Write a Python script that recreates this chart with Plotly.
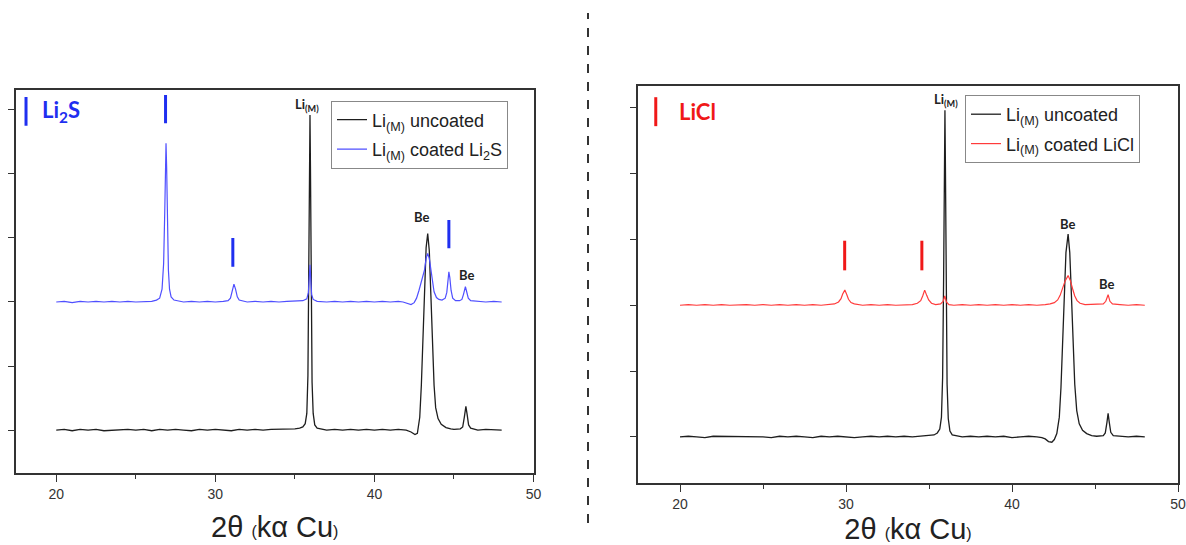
import plotly.graph_objects as go

# ---------------- data ----------------
# Left panel: Li(M) uncoated (black) and Li(M) coated Li2S (blue)
left_unc_x = [20.0, 20.5, 21.0, 21.5, 22.0, 22.5, 23.0, 23.5, 24.0, 24.5, 25.0, 25.5, 26.0, 26.5, 27.0, 27.5,
              28.0, 28.5, 29.0, 29.5, 30.0, 30.5, 31.0, 31.5, 32.0, 32.5, 33.0, 33.5, 34.0, 34.5, 35.0, 35.3,
              35.5, 35.65, 35.75, 35.82, 35.87, 35.92, 35.95, 35.98, 36.03, 36.08, 36.15, 36.25, 36.4, 36.7,
              37.0, 37.5, 38.0, 38.5, 39.0, 39.5, 40.0, 40.5, 41.0, 41.5, 42.0, 42.3, 42.55, 42.7, 42.85, 42.95,
              43.05, 43.15, 43.25, 43.35, 43.45, 43.55, 43.65, 43.75, 43.85, 44.0, 44.2, 44.5, 44.8, 45.0, 45.4,
              45.55, 45.65, 45.75, 45.83, 45.92, 46.05, 46.3, 46.5, 47.0, 47.5, 48.0]
left_unc_y = [0.00, 0.01, -0.01, 0.01, 0.00, 0.01, -0.01, 0.00, 0.01, 0.01, 0.00, 0.01, -0.01, 0.01, 0.00, 0.01,
              0.00, -0.01, 0.01, 0.00, 0.01, 0.00, -0.01, 0.01, 0.00, 0.01, 0.00, 0.01, 0.01, 0.01, 0.02, 0.03,
              0.05, 0.10, 0.26, 0.85, 2.3, 4.3, 4.92, 4.1, 2.2, 0.75, 0.26, 0.08, 0.03, 0.01,
              0.00, 0.01, 0.00, 0.01, 0.00, 0.01, 0.00, 0.01, 0.00, 0.01, 0.00, -0.03, -0.07, -0.05, 0.2, 0.7,
              1.5, 2.3, 2.85, 3.07, 2.8, 2.1, 1.3, 0.7, 0.35, 0.18, 0.09, 0.04, 0.02, 0.01, 0.02,
              0.05, 0.2, 0.37, 0.24, 0.08, 0.03, 0.01, 0.00, 0.01, 0.00, 0.00]

left_coat_x = [20.0, 20.5, 21.0, 21.5, 22.0, 22.5, 23.0, 23.5, 24.0, 24.5, 25.0, 25.5, 26.0, 26.3, 26.5, 26.65,
               26.75, 26.82, 26.87, 26.9, 26.94, 26.99, 27.05, 27.12, 27.22, 27.4, 27.7, 28.0, 28.5, 29.0, 29.5,
               30.0, 30.5, 30.8, 30.95, 31.07, 31.17, 31.27, 31.38, 31.5, 31.8, 32.0, 32.5, 33.0, 33.5, 34.0,
               34.5, 35.0, 35.5, 35.75, 35.85, 35.92, 35.95, 35.99, 36.05, 36.15, 36.4, 37.0, 37.5, 38.0, 38.5,
               39.0, 39.5, 40.0, 40.5, 41.0, 41.5, 41.8, 42.1, 42.3, 42.5, 42.65, 42.8, 42.95, 43.05, 43.15,
               43.25, 43.35, 43.45, 43.55, 43.65, 43.75, 43.9, 44.05, 44.25, 44.45, 44.55, 44.63, 44.68, 44.74,
               44.82, 44.92, 45.1, 45.35, 45.5, 45.6, 45.72, 45.8, 45.9, 46.05, 46.5, 47.0, 47.5, 48.0]
left_coat_y = [2.00, 2.01, 1.99, 2.01, 2.00, 2.01, 2.00, 2.01, 2.00, 2.01, 2.00, 2.01, 2.01, 2.03, 2.06, 2.2,
               2.6, 3.4, 4.2, 4.48, 4.1, 3.2, 2.5, 2.2, 2.08, 2.03, 2.01, 2.00, 2.01, 2.00, 2.01,
               2.00, 2.01, 2.02, 2.06, 2.17, 2.28, 2.2, 2.08, 2.03, 2.01, 2.00, 2.01, 2.00, 2.01, 2.00,
               2.01, 2.01, 2.02, 2.05, 2.15, 2.45, 2.58, 2.4, 2.12, 2.04, 2.01, 2.00, 2.01, 2.00, 2.01,
               2.00, 2.01, 2.00, 2.01, 2.00, 2.01, 2.00, 1.97, 1.96, 1.99, 2.06, 2.18, 2.32, 2.38, 2.5,
               2.68, 2.76, 2.68, 2.48, 2.3, 2.16, 2.07, 2.04, 2.03, 2.06, 2.15, 2.35, 2.47, 2.38,
               2.18, 2.06, 2.02, 2.02, 2.04, 2.12, 2.24, 2.16, 2.06, 2.02, 2.01, 2.00, 2.01, 2.00]

# Right panel: Li(M) uncoated (black) and Li(M) coated LiCl (red)
right_unc_x = [20.0, 20.5, 21.0, 21.5, 22.0, 22.5, 23.0, 23.5, 24.0, 24.5, 25.0, 25.5, 26.0, 26.5, 27.0, 27.5,
               28.0, 28.5, 29.0, 29.5, 30.0, 30.5, 31.0, 31.5, 32.0, 32.5, 33.0, 33.5, 34.0, 34.5, 35.0, 35.3,
               35.5, 35.65, 35.75, 35.82, 35.88, 35.93, 35.96, 35.99, 36.03, 36.09, 36.16, 36.26, 36.4, 36.7,
               37.0, 37.5, 38.0, 38.5, 39.0, 39.5, 40.0, 40.5, 41.0, 41.5, 41.8, 42.0, 42.2, 42.4, 42.55, 42.7,
               42.85, 42.95, 43.05, 43.15, 43.25, 43.38, 43.48, 43.58, 43.68, 43.78, 43.9, 44.05, 44.25, 44.5,
               44.8, 45.1, 45.5, 45.62, 45.72, 45.79, 45.86, 45.95, 46.1, 46.5, 47.0, 47.5, 48.0]
right_unc_y = [0.00, 0.01, 0.00, -0.01, 0.01, 0.01, 0.00, 0.01, 0.00, 0.01, 0.00, -0.01, 0.01, 0.00, 0.01, 0.00,
               -0.01, 0.01, 0.00, 0.01, 0.00, -0.01, 0.00, 0.01, 0.00, 0.01, 0.00, 0.01, 0.00, 0.01, 0.02, 0.03,
               0.06, 0.12, 0.3, 0.9, 2.4, 4.4, 4.96, 4.1, 2.2, 0.8, 0.28, 0.09, 0.03, 0.01,
               0.00, 0.01, 0.00, 0.01, 0.00, 0.01, -0.01, 0.00, 0.01, 0.00, -0.01, -0.03, -0.07, -0.08, -0.04, 0.05,
               0.3, 0.75, 1.45, 2.2, 2.8, 3.08, 2.8, 2.15, 1.4, 0.8, 0.4, 0.2, 0.1, 0.05,
               0.02, 0.01, 0.02, 0.06, 0.22, 0.36, 0.22, 0.07, 0.02, 0.01, 0.00, 0.01, 0.00]

right_coat_x = [20.0, 20.5, 21.0, 21.5, 22.0, 22.5, 23.0, 23.5, 24.0, 24.5, 25.0, 25.5, 26.0, 26.5, 27.0, 27.5,
                28.0, 28.5, 29.0, 29.3, 29.55, 29.7, 29.8, 29.93, 30.05, 30.15, 30.3, 30.5, 31.0, 31.5, 32.0,
                32.5, 33.0, 33.5, 34.0, 34.3, 34.5, 34.62, 34.74, 34.86, 34.98, 35.15, 35.4, 35.7, 35.85, 35.95,
                36.05, 36.2, 36.5, 37.0, 37.5, 38.0, 38.5, 39.0, 39.5, 40.0, 40.5, 41.0, 41.5, 42.0, 42.3, 42.55,
                42.75, 42.9, 43.05, 43.2, 43.38, 43.52, 43.65, 43.78, 43.92, 44.1, 44.4, 44.8, 45.2, 45.5, 45.65,
                45.79, 45.9, 46.05, 46.5, 47.0, 47.5, 48.0]
right_coat_y = [2.00, 2.01, 2.00, 2.01, 2.00, 2.01, 2.00, 2.01, 2.01, 2.00, 2.01, 2.00, 2.01, 2.00, 2.01, 2.00,
                2.01, 2.00, 2.01, 2.02, 2.05, 2.1, 2.17, 2.23, 2.16, 2.09, 2.04, 2.02, 2.00, 2.01, 2.00,
                2.01, 2.00, 2.01, 2.01, 2.03, 2.07, 2.14, 2.23, 2.15, 2.08, 2.03, 2.01, 2.02, 2.06, 2.14,
                2.05, 2.01, 2.00, 2.01, 2.00, 2.01, 2.00, 2.01, 2.00, 2.01, 2.00, 2.01, 2.00, 2.01, 2.02, 2.04,
                2.08, 2.15, 2.25, 2.37, 2.45, 2.37, 2.25, 2.14, 2.07, 2.03, 2.01, 2.01, 2.01, 2.02, 2.06,
                2.16, 2.06, 2.02, 2.01, 2.00, 2.01, 2.00]

# reference-pattern markers (position, bar bottom, bar top)
li2s_ref_pos = [18.1, 26.87, 31.1, 44.68]
li2s_ref_bottom = [4.75, 4.79, 2.55, 2.84]
li2s_ref_top = [5.20, 5.23, 3.00, 3.28]
licl_ref_pos = [18.54, 29.92, 34.57]
licl_ref_bottom = [4.72, 2.53, 2.53]
licl_ref_top = [5.16, 2.98, 2.98]

# peak labels: (x, y, text)
left_labels_x = [35.75, 42.95, 45.77]
left_labels_y = [5.08, 3.32, 2.42]
left_labels_t = ["Li<sub>(M)</sub>", "Be", "Be"]
right_labels_x = [36.0, 43.35, 45.7]
right_labels_y = [5.12, 3.23, 2.32]
right_labels_t = ["Li<sub>(M)</sub>", "Be", "Be"]

x_ticks = [20, 30, 40, 50]
x_minor_ticks = [25, 35, 45]
y_ticks = [0, 1, 2, 3, 4, 5]
x_range = [17.47, 50]
y_range_left = [-0.67, 5.31]
y_range_right = [-0.70, 5.33]

# ---------------- figure ----------------
W, H = 1186, 545
BLACK = "#1e1e1e"
BLUE_LINE = "#4f4fff"
BLUE = "#1f2ff0"
RED_LINE = "#ff3b3b"
RED = "#f01818"


def seg(pos, bottom, top):
    xs, ys = [], []
    for p, b, t in zip(pos, bottom, top):
        xs += [p, p, None]
        ys += [b, t, None]
    return xs, ys


fig = go.Figure()

fig.add_trace(go.Scatter(x=left_unc_x, y=left_unc_y, mode="lines", name="Li<sub>(M)</sub> uncoated",
                         line=dict(color=BLACK, width=1.3), xaxis="x", yaxis="y", legend="legend",
                         legendgroup="a"))
fig.add_trace(go.Scatter(x=left_coat_x, y=left_coat_y, mode="lines", name="Li<sub>(M)</sub> coated Li<sub>2</sub>S",
                         line=dict(color=BLUE_LINE, width=1.2), xaxis="x", yaxis="y", legend="legend",
                         legendgroup="b"))
sx, sy = seg(li2s_ref_pos, li2s_ref_bottom, li2s_ref_top)
fig.add_trace(go.Scatter(x=sx, y=sy, mode="lines", line=dict(color=BLUE, width=3), showlegend=False,
                         xaxis="x", yaxis="y", hoverinfo="skip"))

fig.add_trace(go.Scatter(x=right_unc_x, y=right_unc_y, mode="lines", name="Li<sub>(M)</sub> uncoated",
                         line=dict(color=BLACK, width=1.3), xaxis="x2", yaxis="y2", legend="legend2",
                         legendgroup="c"))
fig.add_trace(go.Scatter(x=right_coat_x, y=right_coat_y, mode="lines", name="Li<sub>(M)</sub> coated LiCl",
                         line=dict(color=RED_LINE, width=1.2), xaxis="x2", yaxis="y2", legend="legend2",
                         legendgroup="d"))
sx, sy = seg(licl_ref_pos, licl_ref_bottom, licl_ref_top)
fig.add_trace(go.Scatter(x=sx, y=sy, mode="lines", line=dict(color=RED, width=3), showlegend=False,
                         xaxis="x2", yaxis="y2", hoverinfo="skip"))

ann = []
for xv, yv, t in zip(left_labels_x, left_labels_y, left_labels_t):
    ann.append(dict(x=xv, y=yv, xref="x", yref="y", text="<b>%s</b>" % t, showarrow=False,
                    font=dict(family="Lato", size=13, color="#222")))
for xv, yv, t in zip(right_labels_x, right_labels_y, right_labels_t):
    ann.append(dict(x=xv, y=yv, xref="x2", yref="y2", text="<b>%s</b>" % t, showarrow=False,
                    font=dict(family="Lato", size=13, color="#222")))
ann.append(dict(x=18.95, y=4.98, xref="x", yref="y", text="<b>Li<sub>2</sub>S</b>", showarrow=False,
                xanchor="left", font=dict(family="Lato", size=22, color=BLUE)))
ann.append(dict(x=19.8, y=4.94, xref="x2", yref="y2", text="<b>LiCl</b>", showarrow=False,
                xanchor="left", font=dict(family="Lato", size=22, color=RED)))

title_txt = "2θ <span style='font-size:16px'>(</span>kα Cu<span style='font-size:16px'>)</span>"

xaxis_common = dict(range=x_range, tickvals=x_ticks, ticks="outside", ticklen=7, tickwidth=1.2,
                    tickcolor="#333", showline=True, linecolor="#333", linewidth=1.5, mirror=True,
                    showgrid=False, zeroline=False, automargin=False,
                    minor=dict(tickvals=x_minor_ticks, ticks="outside", ticklen=4, tickcolor="#333",
                               tickwidth=1.2, showgrid=False),
                    tickfont=dict(family="Liberation Sans", size=14, color="#333"),
                    title=dict(text=title_txt, font=dict(family="Liberation Sans", size=29, color="#222"),
                               standoff=16))
yaxis_common = dict(tickvals=y_ticks, ticks="outside", ticklen=6, tickwidth=1.2, tickcolor="#333",
                    showticklabels=False, showline=True, linecolor="#333", linewidth=1.5, mirror=True,
                    showgrid=False, zeroline=False, automargin=False)

legend_common = dict(xanchor="left", yanchor="top", bgcolor="white", bordercolor="#888", borderwidth=1,
                     tracegroupgap=3, font=dict(family="Liberation Sans", size=18, color="#222"))

fig.update_layout(
    width=W, height=H, template="none",
    paper_bgcolor="white", plot_bgcolor="white",
    margin=dict(l=0, r=0, t=0, b=0),
    xaxis=dict(domain=[16 / W, 533.5 / W], anchor="y", **xaxis_common),
    yaxis=dict(domain=[1 - 473 / H, 1 - 90 / H], anchor="x", range=y_range_left, **yaxis_common),
    xaxis2=dict(domain=[638 / W, 1178 / W], anchor="y2", **xaxis_common),
    yaxis2=dict(domain=[1 - 483 / H, 1 - 86 / H], anchor="x2", range=y_range_right, **yaxis_common),
    legend=dict(x=331 / W, y=1 - 100.5 / H, **legend_common),
    legend2=dict(x=965 / W, y=1 - 95 / H, **legend_common),
    annotations=ann,
    showlegend=True,
    shapes=[dict(type="line", xref="paper", yref="paper", x0=588 / W, x1=588 / W, y0=1 - 523 / H,
                 y1=1 - 13 / H, line=dict(color="#333", width=2, dash="dash"))],
)

fig.write_html("out.html", config={"displayModeBar": False},
               post_script="document.body.style.margin='0';")
